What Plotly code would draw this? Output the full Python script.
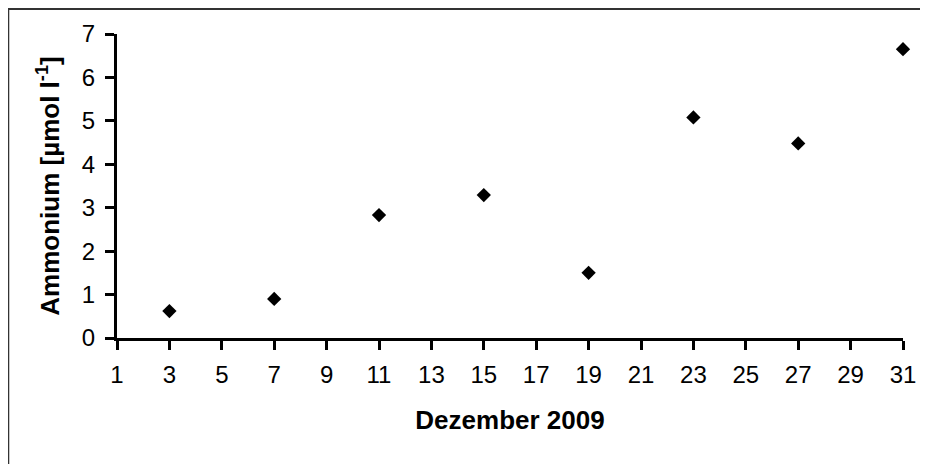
import plotly.graph_objects as go

days = [3, 7, 11, 15, 19, 23, 27, 31]
ammonium = [0.62, 0.90, 2.83, 3.29, 1.50, 5.08, 4.48, 6.65]
x_ticks = list(range(1, 32, 2))
y_ticks = list(range(0, 8))

# page has an 8px body margin; compensate in figure size/margins
OFF = 8
W, H = 928 - OFF, 464 - OFF
L, R, T, B = 117 - OFF, 23, 34 - OFF, 126
pw, ph = W - L - R, H - T - B

def px_x(p):
    return (p - OFF - L) / pw

def px_y(p):
    return (H - B - (p - OFF)) / ph

fig = go.Figure()
fig.add_trace(go.Scatter(
    x=days, y=ammonium, mode="markers",
    marker=dict(symbol="diamond", size=11, color="black", line=dict(width=0)),
    cliponaxis=False, showlegend=False,
))

tick_font = dict(family="Liberation Sans, Arial, sans-serif", size=24, color="black")
title_font = dict(family="Liberation Sans, Arial, sans-serif", size=26, color="black")

fig.update_layout(
    width=W, height=H,
    margin=dict(l=L, r=R, t=T, b=B),
    paper_bgcolor="white", plot_bgcolor="white",
    font=tick_font,
    xaxis=dict(
        range=[1, 31], tickvals=x_ticks, ticktext=[str(v) for v in x_ticks],
        showgrid=False, zeroline=False,
        showline=True, linecolor="black", linewidth=3,
        ticks="outside", ticklen=9, tickwidth=3, tickcolor="black",
        tickfont=tick_font, ticklabelstandoff=4,
        title=dict(text="<b>Dezember 2009</b>", font=title_font, standoff=25),
    ),
    yaxis=dict(
        range=[0, 7], tickvals=y_ticks,
        showgrid=False, zeroline=False,
        showline=True, linecolor="black", linewidth=3,
        ticks="outside", ticklen=9, tickwidth=3, tickcolor="black",
        tickfont=tick_font, ticklabelstandoff=5,
        title=dict(text="<b>Ammonium [µmol l<sup>-1</sup>]</b>", font=title_font, standoff=15),
    ),
    shapes=[dict(
        type="rect", xref="paper", yref="paper",
        x0=px_x(8), x1=px_x(940), y0=px_y(480), y1=px_y(9),
        line=dict(color="#333333", width=2), fillcolor="rgba(0,0,0,0)",
        layer="below",
    )],
)

fig.write_html("out.html")
